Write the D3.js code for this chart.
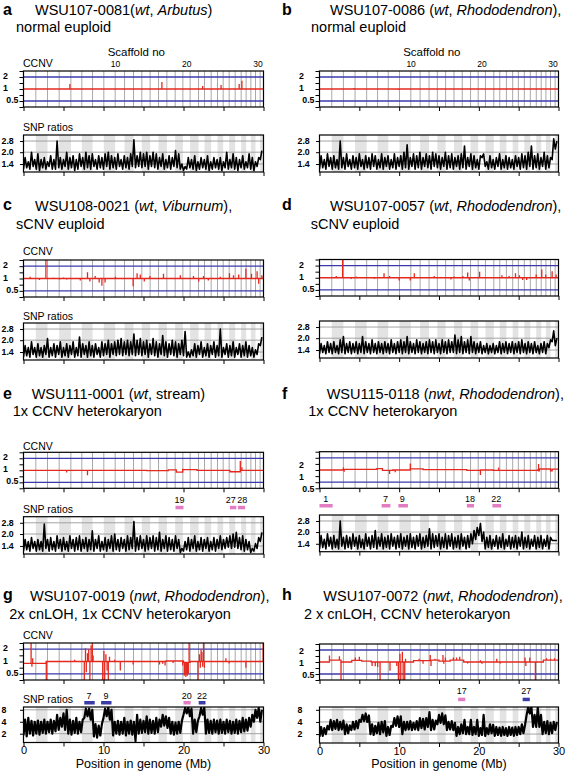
<!DOCTYPE html>
<html><head><meta charset="utf-8">
<script src="https://cdn.jsdelivr.net/npm/d3@7"></script>
<style>body{margin:0;background:#fff}svg{display:block}text{font-family:"Liberation Sans",Arial,sans-serif}</style>
</head><body><svg id="c" width="567" height="774"></svg>
<script>
// ---------------- DATA ----------------
const panelIds = ["a","b","c","d","e","f","g","h"];
const titleParts = {
  a:[["WSU107-0081(",0],["wt",1],[", ",0],["Arbutus",1],[")",0]],
  b:[["WSU107-0086 (",0],["wt",1],[", ",0],["Rhododendron",1],["),",0]],
  c:[["WSU108-0021 (",0],["wt",1],[", ",0],["Viburnum",1],["),",0]],
  d:[["WSU107-0057 (",0],["wt",1],[", ",0],["Rhododendron",1],["),",0]],
  e:[["WSU111-0001 (",0],["wt",1],[", stream)",0]],
  f:[["WSU115-0118 (",0],["nwt",1],[", ",0],["Rhododendron",1],["),",0]],
  g:[["WSU107-0019 (",0],["nwt",1],[", ",0],["Rhododendron",1],["),",0]],
  h:[["WSU107-0072 (",0],["nwt",1],[", ",0],["Rhododendron",1],["),",0]]
};
const subtitles = {a:"normal euploid",b:"normal euploid",c:"sCNV euploid",d:"sCNV euploid",
  e:"1x CCNV heterokaryon",f:"1x CCNV heterokaryon",g:"2x cnLOH, 1x CCNV heterokaryon",h:"2 x cnLOH, CCNV heterokaryon"};

// scaffold boundaries (Mb)
const scaffoldEdges = [0,1.54,3.0,4.46,5.92,7.29,8.63,10.04,11.46,12.63,13.75,14.79,15.83,16.88,17.92,18.96,19.92,20.83,21.88,22.63,23.46,24.25,24.96,25.71,26.46,27.21,27.83,28.42,29.0,29.58,30.0];
const scaffoldNumbers = [["10",11.5],["20",20.4],["30",29.3]];
const scaffoldTitlePos = 14.1;

const xTicks = [0,5,10,15,20,25,30];
const ccnvTicks = [0.354,0.5,0.707,1,1.414,2,2.828];
const ccnvLabels = [[2,"2"],[1,"1"],[0.5,"0.5"]];
const snpTicksLow = [[1.4,"1.4"],[2.0,"2.0"],[2.8,"2.8"]];
const snpTicksHigh = [[2,"2"],[4,"4"],[8,"8"]];

// CCNV: level steps [start Mb, level] and spikes [Mb, value]
const ccnvSteps = {
  e:[[0,1],[15.4,0.98],[18.1,1.02],[19.1,0.9],[19.9,1.04],[21.7,1.0],[25.8,0.92],[27.1,1.0]],
  f:[[0,1],[3.0,1.04],[7.2,1.08],[7.9,0.98],[9.2,1.0],[11.4,1.07],[13.0,1.02],[18.5,0.98],[20.2,1.0],[21.8,0.98],[27.4,1.0],[27.6,1.06],[29.0,0.95],[29.2,1.05]],
  g:[[0,0.9],[2.85,1.0],[17.8,1.03],[20.0,0.95],[20.8,1.0]],
  h:[[0,1.0],[1.25,1.12],[2.7,1.0],[4.05,1.1],[5.3,1.05],[6.5,1.0],[11.8,1.08],[13.9,1.12],[15.0,1.05],[16.4,1.12],[18.1,1.0],[28.1,1.12]]
};
const ccnvSpikes = {
  a:[[5.8,1.34],[17.3,1.5],[22.4,1.19],[24.7,1.26],[26.96,1.33],[27.3,1.6]],
  b:[[4.33,1.06],[9.9,0.95]],
  c:[[0.83,1.1],[2.0,0.92],[2.8,3.0],[3.75,1.05],[4.5,0.95],[5.0,1.06],[5.4,0.95],[7.1,0.9],[8.0,1.43],[8.3,0.85],[8.96,1.15],[9.46,0.8],[9.8,0.67],[10.2,0.8],[11.5,1.1],[13.7,0.65],[14.2,1.35],[14.6,1.25],[15.1,0.85],[15.8,1.15],[17.5,1.3],[19.6,1.2],[21.25,1.15],[21.9,0.85],[22.5,1.15],[23.1,0.9],[24.6,1.1],[25.75,1.35],[26.25,1.2],[26.9,1.25],[27.8,1.75],[28.5,1.3],[29.2,1.5],[29.4,0.75],[29.8,1.2]],
  d:[[0.75,1.05],[2.1,1.1],[2.9,3.0],[3.5,1.05],[4.0,0.95],[4.6,1.07],[6.9,0.95],[8.1,1.3],[8.8,1.1],[10.0,0.85],[11.4,0.85],[11.9,1.3],[14.4,1.1],[16.5,0.9],[16.9,1.08],[18.0,1.1],[18.6,1.35],[18.8,0.85],[20.1,1.4],[21.7,1.05],[22.9,1.15],[23.8,1.1],[24.6,1.3],[25.1,1.15],[25.5,0.88],[26.0,0.88],[27.2,1.2],[27.9,1.6],[28.4,1.2],[29.2,1.45],[29.7,1.2]],
  e:[[5.4,0.88],[8.0,0.75],[19.9,1.1],[27.1,1.7],[27.3,1.2]],
  f:[[3.0,1.15],[3.1,0.9],[8.8,0.8],[9.5,0.88],[11.4,1.45],[20.2,0.75],[22.5,1.15],[27.5,1.4],[27.55,0.9]],
  g:[[0.95,3.0],[1.05,0.75],[1.15,1.2],[2.85,0.3],[6.4,1.1],[7.6,0.3],[7.75,2.1],[7.85,0.55],[8.0,1.6],[8.15,2.0],[8.3,0.3],[8.45,2.5],[8.6,3.0],[8.7,1.4],[9.9,0.3],[10.05,1.8],[10.15,0.3],[10.3,1.5],[10.45,0.6],[10.6,0.3],[10.75,1.3],[11.4,1.1],[12.1,0.6],[13.7,0.85],[17.0,0.85],[17.4,0.88],[17.7,0.8],[18.7,0.92],[19.9,0.8],[20.1,0.45],[20.2,0.5],[20.3,0.42],[20.4,0.48],[20.5,0.45],[20.6,0.5],[20.7,3.0],[21.8,0.3],[22.0,1.5],[22.1,0.7],[22.2,2.0],[22.3,1.7],[22.4,0.75],[22.5,3.0],[22.6,0.7],[25.3,1.2],[25.7,0.9],[27.8,0.7],[29.95,3.0]],
  h:[[1.25,1.45],[2.5,1.4],[2.7,0.3],[4.5,1.3],[5.0,1.35],[6.6,0.8],[7.0,0.78],[7.3,0.75],[7.6,0.3],[8.85,0.6],[9.7,0.8],[9.9,0.3],[10.1,1.6],[10.2,0.3],[10.4,1.8],[10.5,0.3],[10.7,0.3],[10.8,1.2],[12.5,1.2],[13.0,0.9],[13.9,1.5],[14.0,0.8],[14.5,1.2],[15.5,1.5],[15.6,0.9],[15.8,1.3],[16.8,1.3],[17.2,1.3],[17.6,1.35],[18.6,0.92],[20.2,1.1],[20.4,0.9],[22.25,1.2],[22.7,0.92],[25.8,1.3],[25.9,0.8],[26.4,1.3],[27.1,0.3],[28.5,1.25],[29.0,1.2],[29.5,1.25]]
};

// marker bars [label, start Mb, end Mb, kind, label position Mb]
const markers = {
  e:[["19",19.0,20.0,"p",19.5],["27",25.8,26.6,"p",25.9],["28",26.8,27.7,"p",27.35]],
  f:[["1",0,1.65,"p",0.8],["7",7.8,8.9,"p",8.3],["9",9.9,11.1,"p",10.4],["18",18.5,19.4,"p",18.9],["22",21.7,22.8,"p",22.2]],
  g:[["7",7.6,8.9,"b",8.2],["9",9.7,11.0,"b",10.3],["20",20.0,20.9,"p",20.4],["22",21.9,22.75,"b",22.3]],
  h:[["17",17.4,18.3,"p",17.85],["27",25.5,26.4,"b",25.95]]
};

// SNP ratio traces, one value every 0.2 Mb (alternating lows and highs)
const snpStep = 0.2;
const snpA = [1.2,1.7,1.25,1.5,1.2,2.0,1.3,1.6,1.2,1.9,1.15,1.6,1.25,1.7,1.2,1.5,1.3,1.8,1.2,1.6,
1.2,2.8,1.25,1.7,1.2,1.6,1.3,2.0,1.2,1.7,1.25,1.8,1.15,1.6,1.2,1.9,1.3,1.7,1.2,2.0,
1.25,1.8,1.2,1.9,1.3,1.6,1.2,1.8,1.25,1.7,1.2,1.9,1.3,2.0,1.2,1.8,1.25,1.7,1.2,1.9,
1.3,1.6,1.2,1.8,1.25,1.7,1.2,1.9,1.3,2.9,1.25,1.8,1.3,2.0,1.25,1.9,1.3,2.0,1.2,1.8,
1.3,2.0,1.25,1.9,1.2,1.7,1.3,1.9,1.2,1.6,1.25,1.8,1.2,1.7,1.3,2.1,1.25,1.9,1.2,1.4,
1.15,1.3,1.2,1.7,1.25,1.6,1.2,1.8,1.15,1.5,1.2,1.7,1.25,1.6,1.2,1.8,1.15,1.5,1.2,1.7,
1.25,1.6,1.2,1.7,1.15,1.5,1.25,2.0,1.2,1.6,1.25,1.9,1.2,1.7,1.15,1.6,1.25,1.8,1.2,1.5,
1.25,1.9,1.2,1.7,1.15,1.5,1.3,1.7,1.6,2.1];
const snpB = [1.2,1.8,1.25,1.6,1.2,1.9,1.3,1.7,1.2,1.8,1.25,1.6,1.2,2.8,1.25,1.7,1.2,1.9,1.3,1.6,
1.2,1.8,1.25,1.7,1.2,1.9,1.3,1.6,1.2,1.8,1.25,1.7,1.2,1.9,1.3,1.8,1.2,1.6,1.25,1.9,
1.2,1.7,1.3,1.8,1.2,1.6,1.25,1.9,1.2,1.7,1.3,1.8,1.2,2.0,1.25,2.5,1.2,1.7,1.3,1.9,
1.2,1.8,1.25,2.0,1.2,1.7,1.3,1.9,1.25,1.8,1.2,2.0,1.3,1.9,1.25,1.8,1.2,1.7,1.3,2.0,
1.2,1.8,1.25,1.9,1.2,1.7,1.3,1.8,1.2,1.9,1.25,2.4,1.2,1.7,1.3,1.9,1.2,1.8,1.25,1.6,
1.2,1.8,1.7,1.9,1.3,1.5,1.2,1.8,1.25,1.6,1.2,1.7,1.3,1.9,1.2,1.6,1.25,1.8,1.2,1.7,
1.25,1.6,1.2,1.8,1.3,1.7,1.2,1.9,1.25,1.8,1.2,2.0,1.3,2.4,1.2,1.8,1.25,1.9,1.2,1.7,
1.3,2.0,1.2,1.8,1.25,1.7,1.6,3.0,2.2,2.8];
const snpC = [1.2,1.7,1.25,1.6,1.2,1.9,1.3,1.6,1.2,1.8,1.25,1.6,1.2,1.7,1.3,2.1,1.2,1.6,1.25,1.8,
1.2,1.7,1.3,1.9,1.2,1.6,1.25,1.8,1.2,1.7,1.3,1.9,1.2,1.6,1.25,2.2,1.2,1.8,1.3,1.7,
1.2,1.9,1.25,1.7,1.2,1.8,1.3,1.6,1.2,1.9,1.25,1.8,1.3,2.0,1.2,1.8,1.3,1.9,1.25,2.0,
1.3,2.1,1.25,1.9,1.3,2.0,1.25,1.9,1.3,2.4,1.25,2.0,1.3,2.1,1.25,1.9,1.3,2.0,1.2,1.8,
1.3,2.1,1.25,1.9,1.2,1.8,1.3,2.3,1.25,1.9,1.2,1.8,1.3,2.0,1.25,1.9,1.2,1.8,1.3,2.0,
1.25,2.6,1.2,1.4,1.2,1.5,1.25,1.8,1.2,1.7,1.3,1.9,1.2,1.6,1.25,1.8,1.2,1.7,1.3,1.9,
1.2,1.7,1.25,2.8,1.2,1.6,1.3,1.8,1.2,1.7,1.25,1.9,1.2,1.6,1.3,1.8,1.2,1.7,1.25,1.9,
1.2,1.7,1.25,1.6,1.2,1.5,1.3,1.8,1.7,2.2];
const snpD = [1.25,1.7,1.3,1.6,1.25,1.8,1.3,1.7,1.25,1.8,1.3,1.6,1.25,1.9,1.3,2.1,1.25,1.7,1.3,1.8,
1.25,1.7,1.3,1.8,1.25,1.7,1.3,2.1,1.25,1.8,1.3,1.7,1.25,1.9,1.3,1.7,1.25,1.8,1.3,1.7,
1.25,1.8,1.3,1.7,1.25,1.9,1.3,1.7,1.25,1.8,1.3,1.9,1.25,1.8,1.3,2.1,1.25,1.8,1.3,1.7,
1.25,1.9,1.3,1.8,1.25,1.7,1.3,1.8,1.25,1.9,1.3,1.8,1.25,1.9,1.3,1.7,1.25,1.9,1.3,1.8,
1.25,1.9,1.3,1.8,1.3,2.2,1.25,1.9,1.3,2.1,1.25,1.8,1.3,1.9,1.25,2.1,1.3,1.8,1.25,1.7,
1.3,1.8,1.25,1.6,1.3,1.7,1.25,1.6,1.3,1.7,1.25,1.6,1.3,1.8,1.25,1.7,1.3,1.8,1.25,1.7,
1.3,1.8,1.25,1.7,1.3,1.8,1.25,1.9,1.3,1.7,1.25,1.8,1.3,1.7,1.25,1.8,1.3,1.6,1.25,1.7,
1.3,1.8,1.25,1.7,1.5,1.9,1.8,2.5,1.6,2.0];
const snpE = [1.2,1.7,1.25,1.6,1.2,1.8,1.3,1.6,1.2,1.7,1.25,1.6,1.2,2.7,1.3,1.7,1.2,1.8,1.25,1.6,
1.2,1.9,1.3,1.7,1.2,1.8,1.25,1.6,1.2,1.9,1.3,1.7,1.2,1.8,1.25,1.9,1.2,1.7,1.3,1.8,
1.2,1.7,1.25,2.2,1.2,1.7,1.3,1.9,1.2,1.6,1.25,1.8,1.2,1.7,1.3,1.9,1.2,2.0,1.25,1.7,
1.2,1.8,1.3,1.7,1.2,1.9,1.25,1.8,1.3,2.9,1.2,1.8,1.25,1.9,1.3,1.7,1.2,1.9,1.25,1.8,
1.3,1.9,1.2,1.8,1.25,2.1,1.2,1.7,1.3,1.9,1.2,1.8,1.25,1.7,1.2,1.9,1.3,1.7,1.15,1.3,
1.2,1.6,1.25,1.8,1.2,1.7,1.3,1.9,1.2,1.6,1.25,1.8,1.2,1.7,1.3,1.8,1.2,1.6,1.25,1.8,
1.2,1.7,1.3,1.9,1.25,1.7,1.3,1.8,1.35,1.9,1.3,2.0,1.35,2.1,1.3,1.8,1.25,1.9,1.2,1.7,
1.25,1.6,1.15,1.3,1.2,1.5,1.3,1.8,1.6,2.1];
const snpF = [1.2,1.8,1.25,1.6,1.2,1.9,1.3,1.7,1.2,1.8,1.25,1.6,1.2,2.8,1.3,1.7,1.2,1.8,1.25,1.7,
1.2,1.9,1.3,1.7,1.2,1.8,1.25,1.6,1.2,1.9,1.3,1.7,1.2,1.8,1.25,2.1,1.2,1.7,1.3,1.9,
1.2,1.7,1.25,1.8,1.2,1.9,1.3,1.7,1.2,1.8,1.25,1.9,1.2,1.7,1.3,1.8,1.2,1.9,1.25,1.7,
1.2,1.8,1.3,1.9,1.2,1.7,1.25,1.8,1.3,2.2,1.2,1.9,1.25,1.8,1.3,1.9,1.2,1.7,1.25,1.9,
1.2,1.8,1.3,1.9,1.2,1.7,1.25,1.8,1.2,1.9,1.3,1.7,1.2,1.8,1.25,1.9,1.4,2.1,1.6,2.3,
1.8,2.6,1.5,2.0,1.2,1.7,1.25,1.8,1.2,1.6,1.3,1.8,1.2,1.7,1.25,1.9,1.2,1.6,1.3,1.8,
1.2,1.7,1.25,1.8,1.2,1.7,1.3,2.0,1.2,1.7,1.25,1.8,1.2,1.6,1.3,1.8,1.2,1.7,1.25,1.8,
1.2,1.6,1.3,1.8,1.2,1.7,1.55,1.55,1.55,1.55];
const snpG = [1.8,4.5,1.7,5.0,2.0,4.2,1.8,4.0,2.0,4.3,1.9,4.0,2.1,4.5,2.0,4.0,2.2,4.5,2.0,4.2,
2.3,6.0,2.5,5.0,3.0,6.5,2.5,8.0,2.0,4.5,1.9,4.2,2.1,5.0,2.0,4.0,2.2,4.5,5.0,8.5,
5.5,8.5,4.5,8.0,1.7,3.5,1.6,3.2,1.8,3.5,5.0,8.5,5.5,9.0,4.5,8.0,1.8,4.0,2.0,4.2,
1.9,4.0,2.0,5.0,1.8,4.0,2.0,4.3,1.9,4.0,1.3,6.0,2.0,4.5,2.1,4.2,2.2,5.5,2.0,4.5,
2.1,4.2,2.0,5.0,2.2,4.5,3.0,6.0,3.2,5.5,2.8,5.0,2.0,4.0,1.9,3.8,2.0,4.0,2.1,4.2,
6.0,9.0,6.5,9.5,5.5,8.5,2.0,4.5,2.2,4.2,5.5,9.0,6.0,9.0,2.0,4.5,2.1,4.2,2.0,4.5,
2.2,4.3,2.0,4.5,2.1,4.0,2.0,4.5,2.2,4.2,2.0,4.0,2.1,4.5,2.0,4.2,2.2,5.0,2.3,4.5,
2.4,5.0,3.0,6.0,4.0,8.0,5.0,9.0,4.0,8.0];
const snpH = [1.7,3.0,1.8,2.8,2.0,3.2,2.6,4.5,2.5,4.2,2.7,4.5,2.5,4.0,2.6,4.3,2.0,3.5,2.1,3.3,
2.5,4.0,2.6,4.2,2.8,4.5,4.0,6.0,4.2,6.5,4.0,5.8,2.0,3.5,1.9,3.2,2.1,3.8,2.0,4.0,
2.2,4.2,1.8,3.0,1.9,3.2,3.0,5.0,3.2,5.5,3.0,5.5,2.0,4.0,2.5,4.0,2.6,4.2,2.5,3.8,
2.6,4.2,2.5,5.0,2.8,4.8,2.6,5.0,3.0,7.0,2.5,4.5,2.6,4.3,3.5,6.0,3.8,6.5,3.5,5.8,
2.5,4.0,2.6,4.2,2.5,3.8,1.8,3.0,2.0,3.5,2.1,4.5,2.0,3.0,2.0,4.5,1.9,3.0,2.0,4.5,
1.8,2.8,1.9,6.0,1.8,2.8,2.0,3.5,2.1,3.4,1.8,3.0,1.9,2.9,1.8,3.0,1.9,2.8,1.8,3.0,
1.9,2.9,1.8,3.0,1.9,3.0,2.0,3.5,2.1,3.4,6.0,10.0,6.5,9.5,3.0,6.0,3.0,9.0,3.0,6.0,
2.0,4.0,2.1,4.2,2.0,3.8,2.1,4.0,2.5,4.0];
const snpSeries = {a:snpA,b:snpB,c:snpC,d:snpD,e:snpE,f:snpF,g:snpG,h:snpH};

// ---------------- LAYOUT ----------------
const cols = [{x0:23.5,x1:263.5,letterX:3},{x0:319.5,x1:558.5,letterX:282}];
const layout = {
  a:{col:0,tX:35,tY:15,sX:16,sY:31.5,cTop:71,cBot:107,sTop:135,sBot:172,ccLab:66.7,snpLab:130.5,scaffold:true},
  b:{col:1,tX:330,tY:15,sX:311,sY:31.5,cTop:71,cBot:107,sTop:135,sBot:172,scaffold:true},
  c:{col:0,tX:35,tY:210.7,sX:16,sY:229,cTop:260,cBot:297,sTop:323,sBot:360,ccLab:255,snpLab:320},
  d:{col:1,tX:330,tY:210.5,sX:310.7,sY:228.5,cTop:259.5,cBot:296,sTop:321,sBot:358},
  e:{col:0,tX:31.7,tY:399,sX:12.7,sY:416,cTop:452.3,cBot:488.3,sTop:516.7,sBot:554,ccLab:450,snpLab:513.3,mNum:503,mBar:505.8},
  f:{col:1,tX:326.7,tY:399,sX:308.3,sY:416,cTop:451.7,cBot:488.3,sTop:515,sBot:551.7,mNum:501.7,mBar:504,labShift:8},
  g:{col:0,tX:30,tY:600.5,sX:9.3,sY:619,cTop:643,cBot:680,sTop:707,sBot:742.5,ccLab:639,snpLab:703,mNum:699,mBar:701,xLab:true,hi:true},
  h:{col:1,tX:323.3,tY:600.5,sX:304,sY:619,cTop:644,cBot:680,sTop:707,sBot:743,mNum:694,mBar:697.7,xLab:true,hi:true,labShift:2}
};
const RED="#e5281e", BLUE="#3a3aad", GRID="#a9a9a9", BAND="#e3e3e3", PINK="#e37cc3", DBLUE="#3b3ba8";

const svg = d3.select("#c");
const defs = svg.append("defs");

function drawPanel(id){
  const L = layout[id], C = cols[L.col];
  const x = d3.scaleLinear().domain([0,30]).range([C.x0,C.x1]);
  const g = svg.append("g");
  // titles
  g.append("text").attr("x",C.letterX).attr("y",L.tY-0.5).attr("font-size",16).attr("font-weight","bold").text(id);
  const t = g.append("text").attr("x",L.tX).attr("y",L.tY).attr("font-size",14.5);
  titleParts[id].forEach(([s,it])=>t.append("tspan").attr("font-style",it?"italic":null).text(s));
  g.append("text").attr("x",L.sX).attr("y",L.sY).attr("font-size",14.5).text(subtitles[id]);

  // ---------- CCNV ----------
  const yC = d3.scaleLog().base(2).domain([ccnvTicks[0],ccnvTicks[6]]).range([L.cBot,L.cTop]).clamp(true);
  defs.append("clipPath").attr("id","cc"+id).append("rect")
    .attr("x",C.x0).attr("y",L.cTop).attr("width",C.x1-C.x0).attr("height",L.cBot-L.cTop);
  const cg = g.append("g").attr("clip-path",`url(#cc${id})`);
  cg.selectAll("line.sc").data(scaffoldEdges.slice(1,-1)).join("line")
    .attr("x1",d=>x(d)).attr("x2",d=>x(d)).attr("y1",L.cTop).attr("y2",L.cBot)
    .attr("stroke",GRID).attr("stroke-width",1);
  cg.selectAll("line.bl").data([2,0.5]).join("line")
    .attr("x1",C.x0).attr("x2",C.x1).attr("y1",d=>yC(d)).attr("y2",d=>yC(d))
    .attr("stroke",BLUE).attr("stroke-width",1.3);
  const steps = ccnvSteps[id] || [[0,1]];
  const stepPts = steps.concat([[30,steps[steps.length-1][1]]]);
  cg.append("path").datum(stepPts)
    .attr("d",d3.line().curve(d3.curveStepAfter).x(d=>x(d[0])).y(d=>yC(d[1])))
    .attr("fill","none").attr("stroke",RED).attr("stroke-width",1.3);
  const levelAt = p => { let v = steps[0][1]; steps.forEach(s=>{ if (s[0]<=p) v=s[1]; }); return v; };
  cg.selectAll("line.sp").data(ccnvSpikes[id]||[]).join("line")
    .attr("x1",d=>x(d[0])).attr("x2",d=>x(d[0]))
    .attr("y1",d=>yC(levelAt(d[0]))).attr("y2",d=>yC(d[1]))
    .attr("stroke",RED).attr("stroke-width",1.3);
  g.append("rect").attr("x",C.x0).attr("y",L.cTop).attr("width",C.x1-C.x0).attr("height",L.cBot-L.cTop)
    .attr("fill","none").attr("stroke","#000").attr("stroke-width",1.2);
  const axC = g.append("g").attr("transform",`translate(${C.x0},0)`)
    .call(d3.axisLeft(yC).tickValues(ccnvTicks).tickFormat("").tickSize(4).tickSizeOuter(0));
  axC.select(".domain").remove();
  const axCb = g.append("g").attr("transform",`translate(0,${L.cBot})`)
    .call(d3.axisBottom(x).tickValues(xTicks).tickFormat("").tickSize(4).tickSizeOuter(0));
  axCb.select(".domain").remove();
  const sh = L.labShift||0;
  ccnvLabels.forEach(([v,s])=>{
    g.append("text").attr("x", s==="0.5" ? C.x0-5 : C.x0-20.5).attr("y",yC(v)+2+sh)
      .attr("text-anchor", s==="0.5" ? "end" : "start")
      .attr("font-size",8.8).attr("font-weight","bold").text(s);
  });
  if (L.ccLab) g.append("text").attr("x",C.x0-0.5).attr("y",L.ccLab).attr("font-size",10.5).text("CCNV");
  if (L.scaffold){
    g.append("text").attr("x",x(scaffoldTitlePos)).attr("y",56).attr("text-anchor","middle").attr("font-size",11.5).text("Scaffold no");
    scaffoldNumbers.forEach(([s,p])=> g.append("text").attr("x",x(p)).attr("y",67.3).attr("text-anchor","middle").attr("font-size",8.5).text(s));
  }

  // ---------- markers ----------
  (markers[id]||[]).forEach(([s,a,b,k,lp])=>{
    g.append("rect").attr("x",x(a)).attr("y",L.mBar).attr("width",x(b)-x(a)).attr("height",3.5)
      .attr("fill",k==="p"?PINK:DBLUE);
    g.append("text").attr("x",x(lp)).attr("y",L.mNum).attr("text-anchor","middle").attr("font-size",9).text(s);
  });

  // ---------- SNP ratios ----------
  const yS = d3.scaleLog().base(2).domain(L.hi?[1.2,9.4]:[1.1,3.36]).range([L.sBot,L.sTop]).clamp(true);
  const sTicks = L.hi ? snpTicksHigh : snpTicksLow;
  defs.append("clipPath").attr("id","sc"+id).append("rect")
    .attr("x",C.x0).attr("y",L.sTop).attr("width",C.x1-C.x0).attr("height",L.sBot-L.sTop);
  const sg = g.append("g").attr("clip-path",`url(#sc${id})`);
  const bands = d3.range(scaffoldEdges.length-1).filter(i=>i%2===1);
  sg.selectAll("rect.bd").data(bands).join("rect")
    .attr("x",i=>x(scaffoldEdges[i])).attr("width",i=>x(scaffoldEdges[i+1])-x(scaffoldEdges[i]))
    .attr("y",L.sTop).attr("height",L.sBot-L.sTop).attr("fill",BAND);
  sg.selectAll("line.hg").data(sTicks).join("line")
    .attr("x1",C.x0).attr("x2",C.x1).attr("y1",d=>yS(d[0])).attr("y2",d=>yS(d[0]))
    .attr("stroke","#9a9a9a").attr("stroke-width",0.9);
  sg.append("path").datum(snpSeries[id])
    .attr("d",d3.line().x((d,i)=>x(i*snpStep)).y(d=>yS(d)))
    .attr("fill","none").attr("stroke","#000").attr("stroke-width",L.hi?2.2:1.6).attr("stroke-linejoin","round");
  g.append("rect").attr("x",C.x0).attr("y",L.sTop).attr("width",C.x1-C.x0).attr("height",L.sBot-L.sTop)
    .attr("fill","none").attr("stroke","#000").attr("stroke-width",1.2);
  const axS = g.append("g").attr("transform",`translate(${C.x0},0)`)
    .call(d3.axisLeft(yS).tickValues(sTicks.map(d=>d[0])).tickFormat("").tickSize(3.5).tickSizeOuter(0));
  axS.select(".domain").remove();
  sTicks.forEach(([v,s])=> g.append("text").attr("x",C.x0-22).attr("y",yS(v)+3)
    .attr("font-size",8.8).attr("font-weight","bold").text(s));
  const axSb = g.append("g").attr("transform",`translate(0,${L.sBot})`)
    .call(d3.axisBottom(x).tickValues(xTicks).tickSize(4).tickSizeOuter(0)
      .tickFormat(d => L.xLab && d%10===0 ? d : ""));
  axSb.select(".domain").remove();
  axSb.attr("font-family",null).attr("font-size",null);
  axSb.selectAll("text").attr("font-size",11).attr("dy",null).attr("y",11.5);
  if (L.snpLab) g.append("text").attr("x",C.x0-0.5).attr("y",L.snpLab).attr("font-size",10.5).text("SNP ratios");
  if (L.xLab) g.append("text").attr("x",(C.x0+C.x1)/2).attr("y",767.5).attr("text-anchor","middle")
    .attr("font-size",12.5).text("Position in genome (Mb)");
}
panelIds.forEach(drawPanel);
</script></body></html>
